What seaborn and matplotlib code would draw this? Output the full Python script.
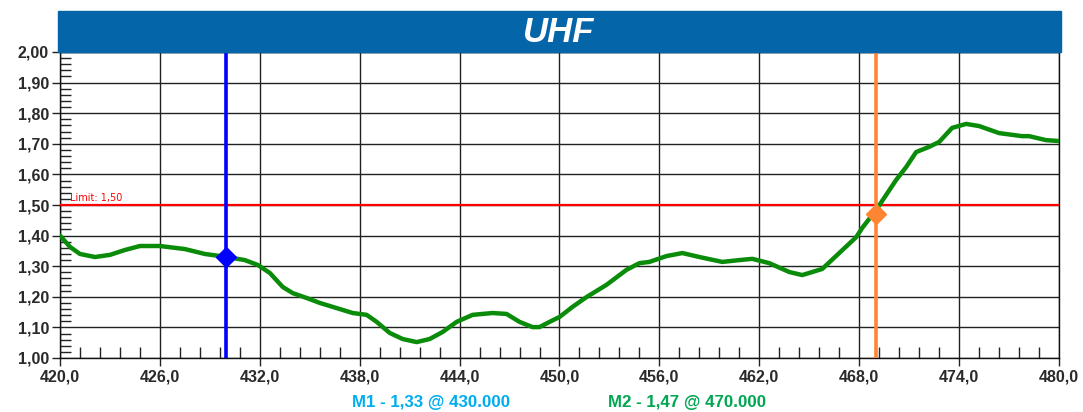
import pandas as pd
import matplotlib.pyplot as plt
import seaborn as sns
from matplotlib.ticker import MultipleLocator, FuncFormatter
from matplotlib.patches import Rectangle

sns.set_theme(style="white")
plt.rcParams['font.family'] = ['Liberation Sans', 'DejaVu Sans']

# VSWR trace (frequency in MHz)
freq = [420.00, 420.60, 421.20, 422.10, 423.00, 423.90, 424.80, 426.00, 427.50, 428.70,
        430.02, 431.10, 431.88, 432.60, 433.38, 433.98, 434.82, 435.60, 436.62, 437.58,
        438.42, 439.02, 439.80, 440.58, 441.42, 442.20, 442.98, 443.82, 444.78, 445.98,
        446.82, 447.60, 448.38, 448.80, 449.40, 450.00, 450.78, 451.62, 452.82, 454.02,
        454.80, 455.40, 456.42, 457.38, 458.40, 459.78, 460.80, 461.58, 462.60, 463.80,
        464.58, 465.78, 466.80, 467.82, 468.18, 469.02, 470.22, 470.82, 471.42, 472.20,
        472.80, 473.58, 474.42, 475.20, 476.40, 477.78, 478.20, 479.22, 480.00]
vswr = [1.400, 1.363, 1.340, 1.330, 1.337, 1.353, 1.366, 1.366, 1.356, 1.340,
        1.330, 1.320, 1.304, 1.278, 1.232, 1.212, 1.196, 1.180, 1.163, 1.147,
        1.141, 1.118, 1.082, 1.062, 1.052, 1.062, 1.085, 1.118, 1.141, 1.147,
        1.144, 1.118, 1.101, 1.101, 1.118, 1.134, 1.167, 1.199, 1.239, 1.288,
        1.310, 1.314, 1.333, 1.343, 1.330, 1.314, 1.320, 1.324, 1.310, 1.281,
        1.271, 1.291, 1.343, 1.395, 1.425, 1.484, 1.582, 1.624, 1.673, 1.690,
        1.706, 1.752, 1.765, 1.758, 1.735, 1.725, 1.725, 1.712, 1.709]

limit = 1.50
marker_x = [430.0, 469.0]
marker_y = [1.33, 1.47]
marker_colors = ['#0000FF', '#FF8533']
marker_labels = ['M1 - 1,33 @ 430.000', 'M2 - 1,47 @ 470.000']
label_colors = ['#00AEEF', '#00A651']

df = pd.DataFrame({'freq': freq, 'vswr': vswr})

W, H = 1083, 412
fig = plt.figure(figsize=(W / 100, H / 100), dpi=100)
ax = fig.add_axes([60 / W, (H - 358) / H, 999 / W, 306 / H])

# title banner
fig.patches.append(Rectangle((58 / W, (H - 52) / H), 1003 / W, 41 / H,
                             transform=fig.transFigure, color='#0466A8', zorder=0))
fig.text(559 / W, (H - 32) / H, 'UHF', color='white', fontsize=25,
         fontweight='bold', fontstyle='italic', ha='center', va='center')

ax.set_xlim(420, 480)
ax.set_ylim(1.0, 2.0)
ax.xaxis.set_major_locator(MultipleLocator(6))
ax.xaxis.set_minor_locator(MultipleLocator(1.2))
ax.yaxis.set_major_locator(MultipleLocator(0.1))
ax.yaxis.set_minor_locator(MultipleLocator(0.02))
ax.xaxis.set_major_formatter(FuncFormatter(lambda v, p: f"{v:.1f}".replace('.', ',')))
ax.yaxis.set_major_formatter(FuncFormatter(lambda v, p: f"{v:.2f}".replace('.', ',')))
ax.grid(True, which='major', color='#222222', linewidth=1)
ax.tick_params(which='major', direction='out', length=6, width=1, color='#222222',
               labelsize=11.5, labelcolor='#2a2a2a', pad=2)
ax.tick_params(which='minor', direction='in', length=8, width=1, color='#222222')
ax.tick_params(axis='x', which='both', bottom=True)
ax.tick_params(axis='y', which='both', left=True)
for lab in ax.get_xticklabels() + ax.get_yticklabels():
    lab.set_fontweight('bold')
for s in ax.spines.values():
    s.set_color('#111111')
    s.set_linewidth(1)

# limit line
ax.axhline(limit, color='#FF0000', linewidth=1.6, zorder=3)
ax.text(420.6, limit + 0.008, 'Limit: 1,50', color='#FF0000', fontsize=7,
        family=['DejaVu Sans'], va='bottom', ha='left')

sns.lineplot(data=df, x='freq', y='vswr', ax=ax, color='#0A8C0A', linewidth=3.2,
             zorder=4, solid_joinstyle='round', solid_capstyle='round')

for mx, my, mc in zip(marker_x, marker_y, marker_colors):
    ax.axvline(mx, color=mc, linewidth=2.6, zorder=5)
    ax.plot(mx, my, marker='D', markersize=10, color=mc, zorder=6)

ax.set_xlabel('')
ax.set_ylabel('')

for lbl, col, xc in zip(marker_labels, label_colors, [431, 687]):
    fig.text(xc / W, (H - 403) / H, lbl, color=col, fontsize=12.2, fontweight='bold',
             ha='center', va='center')

fig.savefig('out.png', dpi=100, facecolor='white')
